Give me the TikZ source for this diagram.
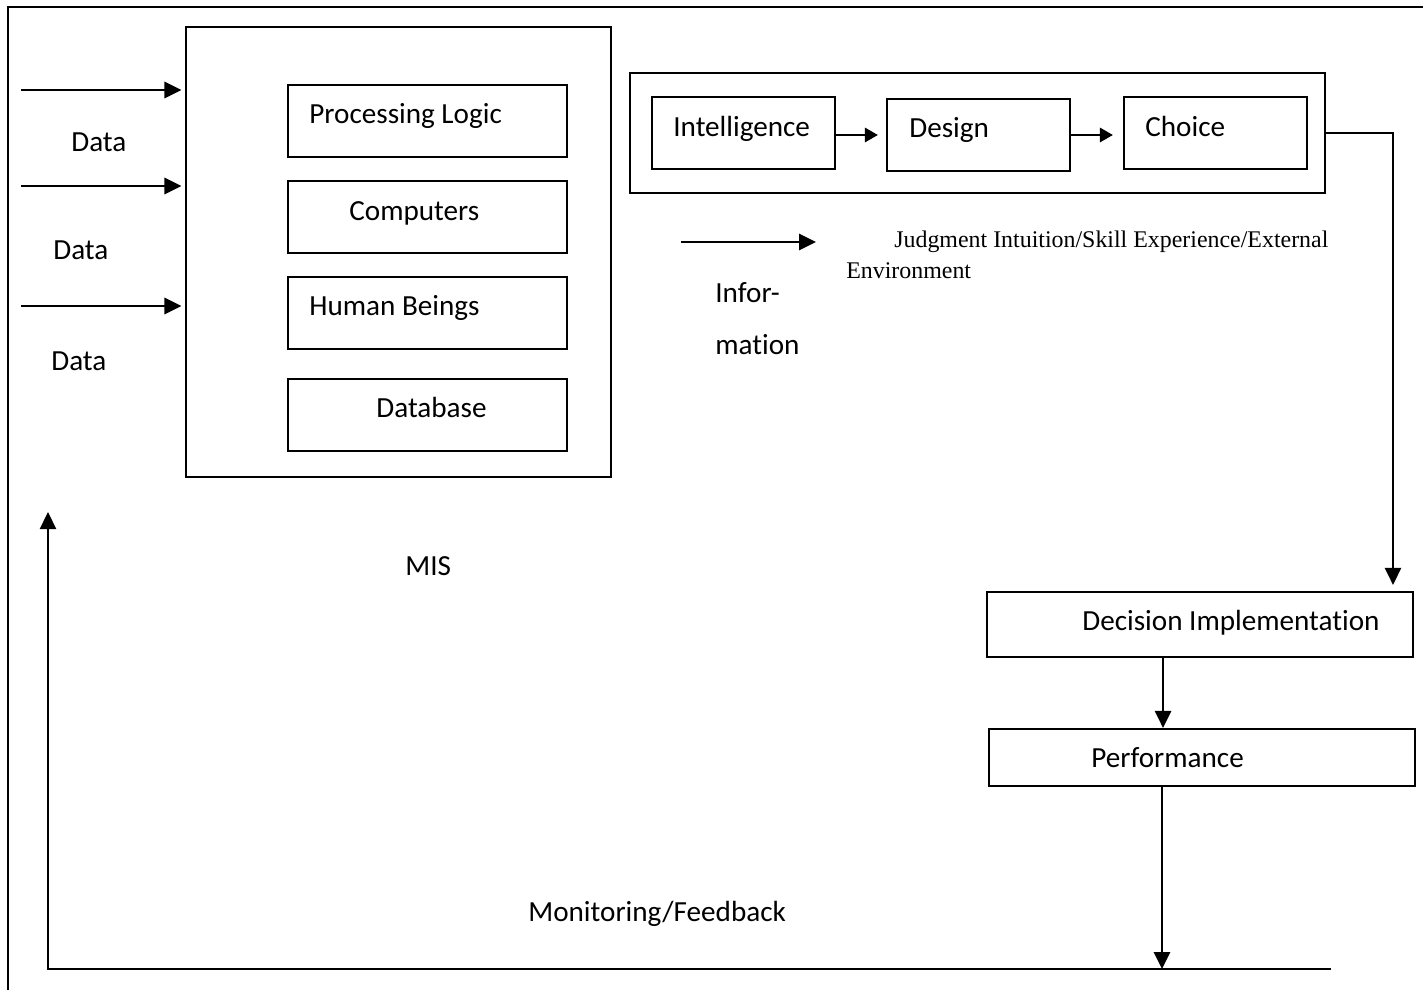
\documentclass[tikz,border=0pt]{standalone}
\usepackage{fontspec}
\setmainfont{Carlito}[Ligatures=NoCommon]
\newfontfamily\timesfont{Liberation Serif}
\usepackage{tikz}
\usetikzlibrary{positioning,calc,arrows.meta}

\tikzset{
  box/.style={draw,line width=1.2pt,rectangle,inner sep=0pt},
  txt/.style={anchor=base west,inner sep=0pt,font=\fontsize{16.6}{19}\selectfont},
  serif/.style={anchor=base west,inner sep=0pt,font=\timesfont\fontsize{13.6}{16}\selectfont},
  arr/.style={line width=1.6pt,-{Triangle[length=0.34cm,width=0.32cm]}},
  smarr/.style={line width=1.6pt,-{Triangle[length=0.26cm,width=0.28cm]}}
}

\begin{document}
\begin{tikzpicture}[x=0.02cm,y=-0.02cm]
    \useasboundingbox (0,0) rectangle (1423,990);
    \draw[line width=1.2pt] (8,990) -- (8,7) -- (1423,7);

    % MIS
    \node[box,minimum width=8.5cm,minimum height=9cm] (mis) at (398.5,252) {};
    \node[box,minimum width=5.58cm,minimum height=1.44cm] (logic) at (427.5,121) {};
    \node[box,minimum width=5.58cm,minimum height=1.44cm] (comp) at (427.5,217) {};
    \node[box,minimum width=5.58cm,minimum height=1.44cm] (human) at (427.5,313) {};
    \node[box,minimum width=5.58cm,minimum height=1.44cm] (db) at (427.5,415) {};
    \node[txt] (logictxt) at (309,124) {Processing Logic};
    \node[txt] (comptxt) at (349,220) {Computers};
    \node[txt] (humantxt) at (309,315) {Human Beings};
    \node[txt] (dbtxt) at (376,417) {Database};
    \node[txt] (mistxt) at (405,575) {MIS};

    % data inputs
    \coordinate (d1) at (21,90);
    \coordinate (d2) at (21,186);
    \coordinate (d3) at (21,306);
    \draw[arr,shorten >=2pt] (d1) -- (d1 -| mis.west);
    \draw[arr,shorten >=2pt] (d2) -- (d2 -| mis.west);
    \draw[arr,shorten >=2pt] (d3) -- (d3 -| mis.west);
    \node[txt] (data1) at (71,152) {Data};
    \node[txt] (data2) at (53,259) {Data};
    \node[txt] (data3) at (51,370) {Data};

    % decision making
    \node[box,minimum width=13.9cm,minimum height=2.4cm] (dec) at (977.5,133) {};
    \node[box,minimum width=3.66cm,minimum height=1.44cm] (intel) at (743.5,133) {};
    \node[box,minimum width=3.66cm,minimum height=1.44cm] (design) at (978.5,135) {};
    \node[box,minimum width=3.66cm,minimum height=1.44cm] (choice) at (1215.5,133) {};
    \node[txt] (inteltxt) at (673,136) {Intelligence};
    \node[txt] (designtxt) at (909,137) {Design};
    \node[txt] (choicetxt) at (1145,136) {Choice};
    \draw[smarr,shorten >=0.16cm] ([yshift=-0.04cm]intel.east) -- ([yshift=-0.04cm]intel.east -| design.west);
    \draw[smarr,shorten >=0.2cm] (design.east) -- (design.east -| choice.west);

    % information
    \coordinate (i1) at (681,242);
    \coordinate (i2) at (816,242);
    \draw[arr] (i1) -- (i2);
    \node[txt] (info1) at (715,302) {Infor-};
    \node[txt] (info2) at (715,354) {mation};
    \node[serif] (judg) at (894,247) {Judgment Intuition/Skill Experience/External};
    \node[serif] (env) at (846,278) {Environment};

    % implementation
    \node[box,minimum width=8.52cm,minimum height=1.3cm] (impl) at (1200,624.5) {};
    \node[box,minimum width=8.52cm,minimum height=1.14cm] (perf) at (1202,757.5) {};
    \node[txt] (impltxt) at (1082,630) {Decision Implementation};
    \node[txt] (perftxt) at (1091,767) {Performance};
    \coordinate (bend) at (1393,133);
    \draw[arr,line width=1.3pt,shorten >=0.12cm] (dec.east |- bend) -- (bend) -- (bend |- impl.north);
    \draw[arr] ([xshift=-0.74cm]impl.south) -- ([xshift=-0.74cm]impl.south |- perf.north);

    % feedback
    \coordinate (fb) at (1162,969);
    \coordinate (fbr) at (1331,969);
    \coordinate (fbl) at (48,969);
    \coordinate (fbtop) at (48,512);
    \draw[arr] (perf.south -| fb) -- (fb);
    \draw[arr,line width=1.3pt] (fbr) -- (fbl) -- (fbtop);
    \node[txt] (fbtxt) at (528,921) {Monitoring/Feedback};
\end{tikzpicture}
\end{document}
